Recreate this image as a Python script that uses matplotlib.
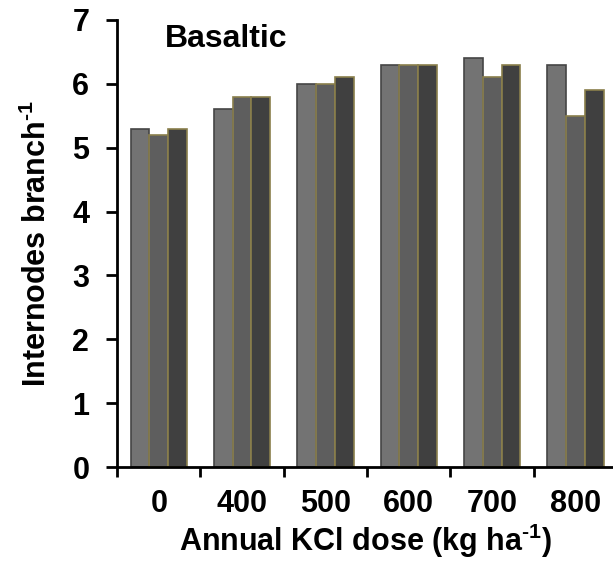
import numpy as np
import matplotlib
matplotlib.use('Agg')
import matplotlib.pyplot as plt

plt.rcParams['font.family'] = ['Liberation Sans', 'DejaVu Sans']
plt.rcParams['font.weight'] = 'bold'
plt.rcParams['mathtext.fontset'] = 'custom'
plt.rcParams['mathtext.rm'] = 'Liberation Sans:bold'
plt.rcParams['mathtext.bf'] = 'Liberation Sans:bold'
plt.rcParams['mathtext.default'] = 'rm'

# Dados
doses = ['0', '400', '500', '600', '700', '800']
serie_a = [5.3, 5.6, 6.0, 6.3, 6.4, 6.3]
serie_b = [5.2, 5.8, 6.0, 6.3, 6.1, 5.5]
serie_c = [5.3, 5.8, 6.1, 6.3, 6.3, 5.9]

fig = plt.figure(figsize=(6.13, 5.63), dpi=100)
ax = fig.add_axes([0.191, 0.1705, 0.809, 0.794])

x = np.arange(len(doses)) + 0.5
w = 0.225
ax.bar(x - w, serie_a, w, color='#737373', edgecolor='#454545', linewidth=1.2)
ax.bar(x, serie_b, w, color='#5e5e5e', edgecolor='#8a7f4c', linewidth=1.2)
ax.bar(x + w, serie_c, w, color='#404040', edgecolor='#8a7f4c', linewidth=1.2)

ax.set_xlim(0, 5.95)
ax.set_ylim(0, 7)
ax.set_yticks(range(0, 8))
ax.set_xticks(range(0, 6))
ax.set_xticklabels([])
ax.set_xticks(x, minor=True)
ax.set_xticklabels(doses, minor=True)
ax.tick_params(axis='x', which='minor', length=0, pad=16, labelsize=22)
ax.tick_params(axis='x', which='major', direction='out', length=7, width=2)
ax.tick_params(axis='y', direction='out', length=8, width=2, labelsize=22, pad=12)

for s in ['top', 'right']:
    ax.spines[s].set_visible(False)
for s in ['left', 'bottom']:
    ax.spines[s].set_linewidth(2)

ax.set_xlabel('Annual KCl dose (kg ha$^{\\text{-1}}$)', fontsize=22, fontweight='bold', labelpad=2)
ax.set_ylabel('Internodes branch$^{\\text{-1}}$', fontsize=22, fontweight='bold', labelpad=14)
ax.text(0.57, 6.7, 'Basaltic', fontsize=23, fontweight='bold', va='center')

plt.savefig('out.png', dpi=100)
